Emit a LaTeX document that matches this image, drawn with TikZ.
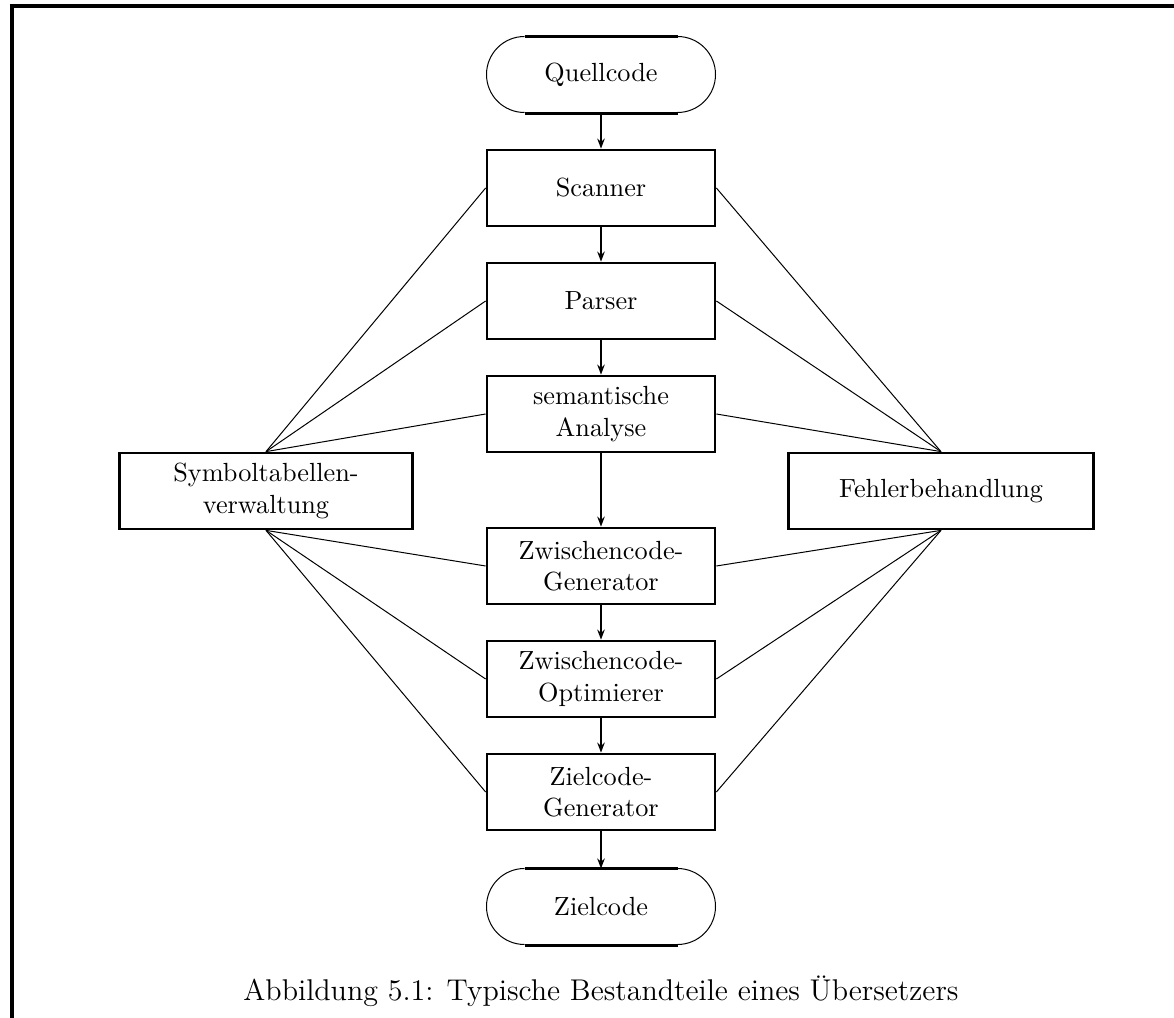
\documentclass[tikz,border=0pt]{standalone}
\usepackage{fontspec}
\usetikzlibrary{arrows.meta}
\begin{document}
\begin{tikzpicture}[x=0.4pt,y=-0.4pt,
  box/.style={draw,line width=1.1pt,minimum width=91.2pt,minimum height=30.4pt,inner sep=0pt,align=center,font=\fontsize{10.5}{12.5}\selectfont},
  term/.style={minimum width=91.2pt,minimum height=30.4pt,inner sep=0pt,font=\fontsize{10.5}{12.5}\selectfont},
  flow/.style={line width=0.8pt,-{Stealth[length=4pt,width=3pt]}},
  link/.style={line width=0.4pt},
  frame/.style={line width=1.3pt}]
\useasboundingbox (0,0) rectangle (1174,1018);
\coordinate (fbl) at (12,1018);
\coordinate (ftl) at (12,6);
\coordinate (ftr) at (1174,6);
\draw[frame] (fbl) -- (ftl) -- (ftr);

\node[term] (q) at (601,75) {Quellcode};
\node[box] (sc) at (601,188) {Scanner};
\node[box] (pa) at (601,301) {Parser};
\node[box] (sem) at (601,414) {semantische\\Analyse};
\node[box,minimum width=117.2pt] (sym) at (266,491) {Symboltabellen-\\verwaltung};
\node[box,minimum width=122pt] (feh) at (941,491) {Fehlerbehandlung};
\node[box] (zg) at (601,566) {Zwischencode-\\Generator};
\node[box] (zo) at (601,679) {Zwischencode-\\Optimierer};
\node[box] (zcg) at (601,792) {Zielcode-\\Generator};
\node[term] (zc) at (601,907) {Zielcode};
\node[font=\fontsize{12}{14}\selectfont] (cap) at (601,991) {Abbildung 5.1: Typische Bestandteile eines Übersetzers};

% stadium outlines
\foreach \n in {q,zc}{
  \draw[line width=1.1pt] ([xshift=15.2pt]\n.north west) -- ([xshift=-15.2pt]\n.north east);
  \draw[line width=1.1pt] ([xshift=15.2pt]\n.south west) -- ([xshift=-15.2pt]\n.south east);
  \draw[link] ([xshift=15.2pt]\n.north west) arc[start angle=90,end angle=270,radius=15.2pt];
  \draw[link] ([xshift=-15.2pt]\n.north east) arc[start angle=90,end angle=-90,radius=15.2pt];
}

\draw[flow] (q) -- (sc);
\draw[flow] (sc) -- (pa);
\draw[flow] (pa) -- (sem);
\draw[flow] (sem) -- (zg);
\draw[flow] (zg) -- (zo);
\draw[flow] (zo) -- (zcg);
\draw[flow] (zcg) -- (zc);

\foreach \n in {sc,pa,sem}{
  \draw[link] (sym.north) -- (\n.west);
  \draw[link] (feh.north) -- (\n.east);
}
\foreach \n in {zg,zo,zcg}{
  \draw[link] (sym.south) -- (\n.west);
  \draw[link] (feh.south) -- (\n.east);
}
\end{tikzpicture}
\end{document}
